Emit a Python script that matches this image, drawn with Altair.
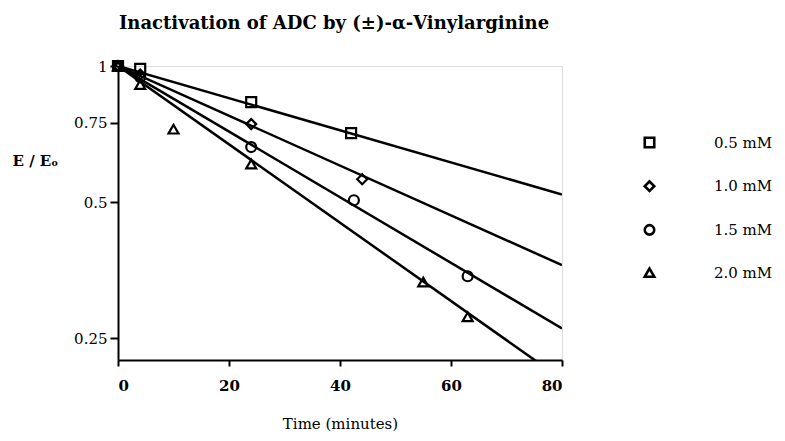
import altair as alt
import pandas as pd

# Measured points (time in minutes, E/Eo)
conc_labels = ["0.5 mM", "1.0 mM", "1.5 mM", "2.0 mM"]
sq_t = [0, 4, 24, 42]
sq_v = [1.0, 0.985, 0.832, 0.711]
di_t = [0, 4, 24, 44]
di_v = [1.0, 0.958, 0.744, 0.562]
ci_t = [0, 4, 24, 42.5, 63]
ci_v = [1.0, 0.945, 0.662, 0.505, 0.343]
tr_t = [0, 4, 10, 24, 55, 63]
tr_v = [1.0, 0.91, 0.725, 0.607, 0.333, 0.279]

# Fitted lines: start and end (t = 0 and t = 80)
fit_t = [0, 80]
fit_sq = [1.0, 0.52]
fit_di = [1.0, 0.363]
fit_ci = [1.0, 0.263]
fit_tr = [1.0, 0.203]

x_ticks = [0, 20, 40, 60, 80]
y_ticks = [0.25, 0.5, 0.75, 1.0]

pts = []
# draw order: triangles, circles, diamonds, squares last (on top)
for lab, ts, vs in [(conc_labels[3], tr_t, tr_v), (conc_labels[2], ci_t, ci_v),
                    (conc_labels[1], di_t, di_v), (conc_labels[0], sq_t, sq_v)]:
    for t, v in zip(ts, vs):
        pts.append({"t": t, "v": v, "conc": lab})
pts_df = pd.DataFrame(pts)

fits = []
for lab, vs in zip(conc_labels, [fit_sq, fit_di, fit_ci, fit_tr]):
    for t, v in zip(fit_t, vs):
        fits.append({"t": t, "v": v, "conc": lab})
fit_df = pd.DataFrame(fits)

FONT = "DejaVu Serif"

x_enc = alt.X("t:Q", scale=alt.Scale(domain=[0, 80], nice=False, zero=False),
              axis=alt.Axis(values=x_ticks, title="Time (minutes)", grid=False,
                            tickSize=6, tickWidth=2, tickColor="black",
                            domainColor="black", domainWidth=2,
                            labelFont=FONT, labelFontSize=15, labelFontWeight="bold",
                            labelColor="black", labelPadding=12,
                            titleFont=FONT, titleFontSize=15, titleFontWeight="normal",
                            titleColor="black", titleY=68, titleBaseline="alphabetic"))
y_enc = alt.Y("v:Q", scale=alt.Scale(type="log", domain=[0.224, 1.0], nice=False, zero=False),
              axis=alt.Axis(values=y_ticks, format="~g", title="E / Eₒ", grid=False,
                            tickSize=8, tickWidth=2, tickColor="black",
                            domainColor="black", domainWidth=2,
                            labelFont=FONT, labelFontSize=15, labelColor="black",
                            labelPadding=3,
                            titleFont=FONT, titleFontSize=15, titleFontWeight="bold",
                            titleColor="black", titleAngle=0, titleAlign="left",
                            titleBaseline="middle", titleX=-106, titleY=94))

lines = alt.Chart(fit_df).mark_line(color="black", strokeWidth=2.5, clip=True).encode(
    x=x_enc, y=y_enc, detail="conc:N"
)

points = alt.Chart(pts_df).mark_point(filled=False, color="black", strokeWidth=2.2,
                                      size=100, opacity=1).encode(
    x="t:Q", y="v:Q",
    shape=alt.Shape("conc:N",
                    scale=alt.Scale(domain=conc_labels,
                                    range=["square", "diamond", "circle", "triangle-up"]),
                    legend=alt.Legend(title=None, orient="none", legendX=524, legendY=69,
                                      labelFont=FONT, labelFontSize=15, labelColor="black",
                                      labelOffset=57, rowPadding=22.7, symbolSize=90,
                                      symbolStrokeWidth=2.6, symbolStrokeColor="black",
                                      symbolOpacity=1, padding=0))
)

chart = alt.layer(lines, points).properties(
    width=444, height=294,
    title=alt.TitleParams("Inactivation  of  ADC  by  (±)-α-Vinylarginine",
                          font=FONT, fontSize=18, fontWeight="bold", color="black",
                          offset=24, anchor="middle", dx=-6),
    autosize=alt.AutoSizeParams(type="none"),
    padding={"left": 110, "top": 58, "right": 215, "bottom": 73},
).configure_view(stroke="black", strokeWidth=2).configure(background="white")

chart.save("out.html", embed_options={"renderer": "svg", "actions": False})
